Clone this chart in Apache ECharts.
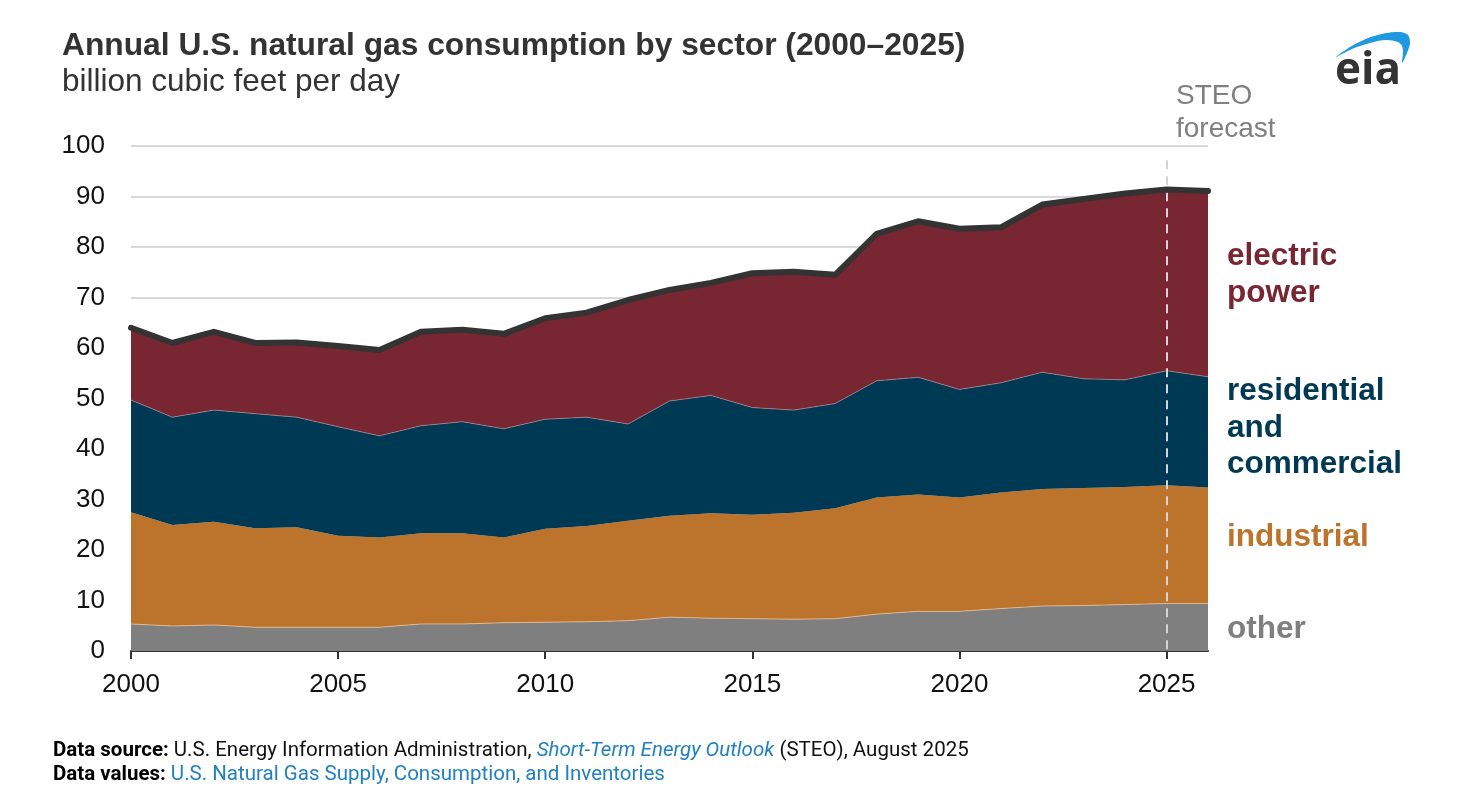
<!DOCTYPE html>
<html>
<head>
<meta charset="utf-8">
<script src="https://cdn.jsdelivr.net/npm/echarts@6/dist/echarts.min.js"></script>
<style>
  html, body { margin: 0; padding: 0; background: #ffffff; }
  #chart { width: 1477px; height: 802px; }
</style>
</head>
<body>
<div id="chart"></div>
<script>
// ---- data (billion cubic feet per day) ----
var years = ['2000','2001','2002','2003','2004','2005','2006','2007','2008','2009','2010','2011','2012','2013','2014','2015','2016','2017','2018','2019','2020','2021','2022','2023','2024','2025','2026'];
var other = [5.35,4.95,5.15,4.7,4.7,4.7,4.7,5.35,5.35,5.6,5.7,5.8,6.0,6.7,6.5,6.4,6.3,6.4,7.3,7.85,7.85,8.4,8.9,9.0,9.2,9.4,9.4];
var industrial = [22.15,20.0,20.45,19.6,19.8,18.1,17.8,17.95,17.95,16.9,18.5,18.95,19.8,20.1,20.8,20.6,21.1,21.85,23.1,23.15,22.55,23.0,23.2,23.3,23.3,23.4,23.0];
var rescom = [22.2,21.35,22.1,22.7,21.8,21.6,20.1,21.3,22.1,21.5,21.7,21.55,19.15,22.7,23.3,21.2,20.3,20.75,23.1,23.2,21.4,21.7,23.1,21.6,21.2,22.7,21.9];
var electric = [14.3,14.7,15.5,14.0,14.8,16.0,17.0,18.6,18.2,18.8,20.0,20.7,24.55,22.0,22.3,26.6,27.4,25.5,29.1,30.9,31.8,30.8,33.2,35.6,36.9,35.9,36.8];
var yTicks = [0,10,20,30,40,50,60,70,80,90,100];
var forecastStart = '2025';

var total = years.map(function (_, i) {
  return +(other[i] + industrial[i] + rescom[i] + electric[i]).toFixed(2);
});

var C_ELEC = '#782632', C_RES = '#003953', C_IND = '#bc732c', C_OTH = '#7f7f7f';
var FONT = '"Liberation Sans", Arial, sans-serif';

var chart = echarts.init(document.getElementById('chart'), null, { renderer: 'canvas' });

function areaSeries(name, data, color, lineColor) {
  return {
    name: name, type: 'line', stack: 'total', data: data,
    showSymbol: false, symbol: 'none', smooth: false,
    lineStyle: { width: lineColor ? 1 : 0, color: lineColor || color },
    areaStyle: { color: color, opacity: 1 },
    emphasis: { disabled: true },
    z: 2
  };
}

var option = {
  animation: false,
  backgroundColor: '#ffffff',
  grid: { left: 131, right: 269, top: 146, bottom: 151, containLabel: false },
  xAxis: {
    type: 'category', data: years, boundaryGap: false,
    axisLine: { show: true, lineStyle: { color: '#333333', width: 2 } },
    axisTick: { show: true, interval: 4, length: 8, lineStyle: { color: '#333333', width: 2 } },
    axisLabel: { interval: 4, fontSize: 26, color: '#111111', margin: 21, fontFamily: FONT },
    splitLine: { show: false }
  },
  yAxis: {
    type: 'value', min: yTicks[0], max: yTicks[yTicks.length - 1], interval: 10,
    axisLine: { show: false }, axisTick: { show: false },
    axisLabel: { fontSize: 26, color: '#111111', margin: 26, fontFamily: FONT },
    splitLine: { show: true, lineStyle: { color: '#d9d9d9', width: 2 } }
  },
  series: [
    areaSeries('other', other, C_OTH, 'rgba(235,190,150,0.8)'),
    areaSeries('industrial', industrial, C_IND),
    areaSeries('residential and commercial', rescom, C_RES, 'rgba(170,140,150,0.7)'),
    (function () {
      var s = areaSeries('electric power', electric, C_ELEC);
      s.markLine = {
        silent: true, symbol: ['none', 'none'],
        label: { show: false },
        lineStyle: { type: [9, 7], color: '#d4d4d4', width: 2 },
        data: [[{ xAxis: forecastStart, yAxis: 97.2 }, { xAxis: forecastStart, yAxis: 0 }]]
      };
      return s;
    })(),
    {
      name: 'total', type: 'line', data: total,
      showSymbol: false, symbol: 'none',
      lineStyle: { width: 6, color: '#333333', cap: 'round', join: 'round' },
      emphasis: { disabled: true },
      z: 10
    }
  ],
  graphic: [
    { type: 'text', x: 62, y: 46, style: { text: 'Annual U.S. natural gas consumption by sector (2000\u20132025)', font: 'bold 31.75px ' + FONT, fill: '#333333', textVerticalAlign: 'middle' } },
    { type: 'text', x: 62, y: 82, style: { text: 'billion cubic feet per day', font: '31.5px ' + FONT, fill: '#333333', textVerticalAlign: 'middle' } },
    { type: 'text', x: 1176, y: 112.5, style: { text: 'STEO\nforecast', font: '28px ' + FONT, fill: '#808080', lineHeight: 33, textVerticalAlign: 'middle', textAlign: 'left' } },
    { type: 'text', x: 1227, y: 275, style: { text: 'electric\npower', font: 'bold 31.5px ' + FONT, fill: C_ELEC, lineHeight: 37.5, textVerticalAlign: 'middle' } },
    { type: 'text', x: 1227, y: 428, style: { text: 'residential\nand\ncommercial', font: 'bold 31.5px ' + FONT, fill: C_RES, lineHeight: 36.5, textVerticalAlign: 'middle' } },
    { type: 'text', x: 1227, y: 537, style: { text: 'industrial', font: 'bold 31.5px ' + FONT, fill: C_IND, textVerticalAlign: 'middle' } },
    { type: 'text', x: 1227, y: 629, style: { text: 'other', font: 'bold 31.5px ' + FONT, fill: C_OTH, textVerticalAlign: 'middle' } },
    // eia logo
    { type: 'polygon', shape: { smooth: 0.3, points: [[1336,57],[1350,47],[1368,38],[1386,33],[1400,32],[1408,35],[1410,43],[1407,53],[1402,63],[1403,53],[1402,46],[1398,42],[1386,40],[1370,43],[1352,49]] }, style: { fill: '#1f9ae0' } },
    { type: 'text', x: 1335, y: 71, style: { text: 'eia', font: 'bold 44px "Open Sans", ' + FONT, fill: '#333333', textVerticalAlign: 'middle' } },
    // footer
    { type: 'text', x: 53, y: 751, style: {
        text: '{b|Data source:} U.S. Energy Information Administration, {i|Short-Term Energy Outlook} (STEO), August 2025',
        font: '20.5px Roboto, sans-serif', fill: '#111111', textVerticalAlign: 'middle',
        rich: { b: { fontWeight: 'bold', fontSize: 20.5, fontFamily: 'Roboto', fill: '#000000' }, i: { fontStyle: 'italic', fontSize: 20.5, fontFamily: 'Roboto', fill: '#2281bf' } }
    } },
    { type: 'text', x: 53, y: 775, style: {
        text: '{b|Data values:} {l|U.S. Natural Gas Supply, Consumption, and Inventories}',
        font: '20.5px Roboto, sans-serif', fill: '#111111', textVerticalAlign: 'middle',
        rich: { b: { fontWeight: 'bold', fontSize: 20.5, fontFamily: 'Roboto', fill: '#000000' }, l: { fontSize: 20.5, fontFamily: 'Roboto', fill: '#2281bf' } }
    } }
  ]
};
chart.setOption(option);
</script>
</body>
</html>
